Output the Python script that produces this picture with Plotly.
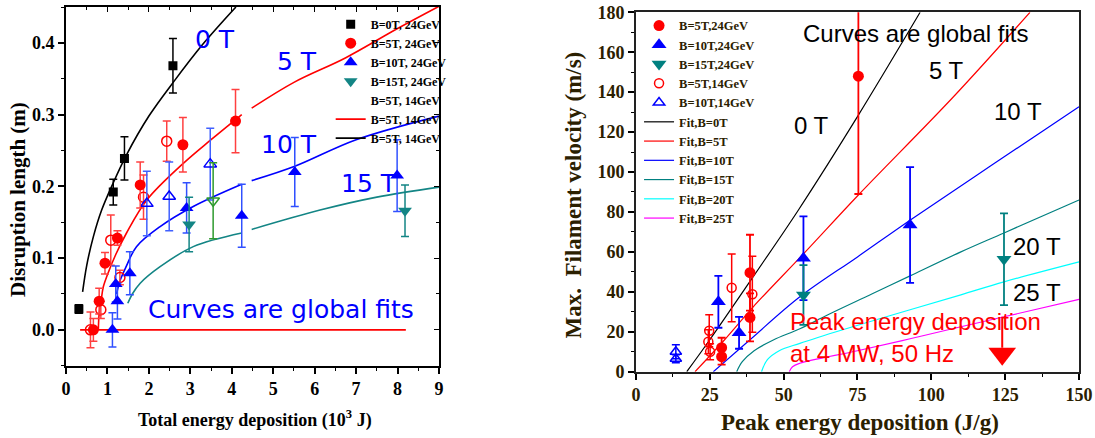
import plotly.graph_objects as go

# ---------------- Left panel data (Total energy deposition, 10^3 J) ----------------
L_b0_x = [0.31, 1.14, 1.41, 2.58]
L_b0_y = [0.029, 0.192, 0.239, 0.368]
L_b0_e = [0.006, 0.018, 0.030, 0.038]

L_b5_x = [0.66, 0.80, 0.94, 1.24, 1.79, 2.82, 4.09]
L_b5_y = [0.0, 0.040, 0.093, 0.128, 0.202, 0.258, 0.291]
L_b5_e = [0.016, 0.018, 0.015, 0.010, 0.032, 0.038, 0.044]

L_b5o_x = [0.59, 0.84, 1.08, 1.30, 1.87, 2.43]
L_b5o_y = [0.0, 0.028, 0.125, 0.073, 0.185, 0.263]
L_b5o_e = [0.025, 0.012, 0.035, 0.010, 0.031, 0.028]

L_b10_x = [1.12, 1.20, 1.24, 1.54, 2.91, 4.24, 5.52, 7.99]
L_b10_y = [0.0, 0.064, 0.040, 0.079, 0.170, 0.159, 0.220, 0.215]
L_b10_e = [0.024, 0.025, 0.025, 0.030, 0.035, 0.044, 0.048, 0.050]

L_b10o_x = [1.95, 2.49, 3.48]
L_b10o_y = [0.176, 0.186, 0.231]
L_b10o_e = [0.045, 0.048, 0.050]

L_b15_x = [2.97, 8.18]
L_b15_y = [0.147, 0.166]
L_b15_e = [0.038, 0.036]

L_b15o_x = [3.55]
L_b15o_y = [0.180]
L_b15o_e = [0.053]

# fit curves
L_fit0_x = [0.40, 0.50, 0.66, 0.86, 1.14, 1.46, 2.0, 2.6, 3.3, 4.1]
L_fit0_y = [0.053, 0.090, 0.130, 0.167, 0.205, 0.244, 0.298, 0.346, 0.398, 0.45]
L_fit5_x = [0.78, 0.80, 0.85, 0.90, 1.0, 1.2, 1.46, 1.95, 2.83, 3.5, 4.24, None, 4.48, 5.5, 6.74, 8.0, 9.0]
L_fit5_y = [0.0, 0.023, 0.042, 0.060, 0.077, 0.105, 0.135, 0.181, 0.232, 0.265, 0.300, None, 0.309, 0.345, 0.379, 0.420, 0.451]
L_fit10_x = [1.22, 1.30, 1.45, 1.70, 2.27, 3.07, 4.24, None, 4.48, 5.52, 7.0, 9.0]
L_fit10_y = [0.050, 0.068, 0.088, 0.116, 0.144, 0.172, 0.203, None, 0.208, 0.228, 0.265, 0.298]
L_fit15_x = [1.49, 1.60, 1.79, 2.27, 3.07, 4.24, None, 4.48, 6.13, 7.5, 9.0]
L_fit15_y = [0.037, 0.050, 0.065, 0.088, 0.116, 0.135, None, 0.140, 0.167, 0.185, 0.199]
L_zero_x = [0.34, 8.2]
L_zero_y = [0.0, 0.0]

# ---------------- Right panel data (Peak energy deposition, J/g) ----------------
R_b5_x = [75.3, 29.0, 29.0, 38.6, 38.6]
R_b5_y = [148, 12.0, 7.5, 49.6, 27.2]
R_b5_e = [59, 5, 4, 19, 12]

R_b10_x = [27.9, 34.9, 56.7, 92.8]
R_b10_y = [35, 19.5, 56.8, 73.5]
R_b10_e = [13, 8, 21, 29]

R_b15_x = [56.7, 124.6]
R_b15_y = [38.4, 56.3]
R_b15_e = [15, 23]

R_b5o_x = [32.4, 24.8, 24.5, 25.1, 39.4]
R_b5o_y = [42, 20.5, 15, 10, 38.8]
R_b5o_e = [17, 8, 6, 4, 19]

R_b10o_x = [13.5, 13.5]
R_b10o_y = [10, 6.5]
R_b10o_e = [3.5, 2]

R_fit0_x = [17.2, 25, 39.7, 55, 75.3, 96.2]
R_fit0_y = [0, 16, 47.6, 81, 128.5, 180]
R_fit5_x = [20, 30, 39.7, 56.7, 75.3, 107.5, 133.4]
R_fit5_y = [0, 16, 32.5, 59, 88.5, 137.7, 180]
R_fit10_x = [26.2, 38.6, 55.5, 75, 93.4, 120, 150]
R_fit10_y = [0, 16, 37.5, 57.5, 76.5, 103, 132.7]
R_fit15_x = [34.1, 36, 40, 46.5, 55.5, 65, 80, 92.8, 110, 124.6, 150]
R_fit15_y = [0, 5, 10.5, 15.9, 21.5, 28.5, 39, 48, 60, 69.5, 86]
R_fit20_x = [42.5, 44.5, 48.5, 55.5, 70, 92.8, 110, 124.6, 150]
R_fit20_y = [0, 6, 10.5, 14.2, 21, 31, 38.5, 45, 55]
R_fit25_x = [51.9, 53, 55.5, 75, 92.8, 110, 124.6, 150]
R_fit25_y = [0, 2.5, 4.2, 10.5, 16.5, 22.5, 27.5, 36.2]

R_arrow_x = [124, 124]
R_arrow_y = [27.5, 12]
R_head_x = [124]
R_head_y = [9]

SERIF = "Liberation Serif"
fig = go.Figure()

def err(arr, color, th=1.5, w=4):
    return dict(type="data", array=arr, color=color, thickness=th, width=w)

# ---- left fits ----
fig.add_trace(go.Scatter(x=L_fit0_x, y=L_fit0_y, mode="lines", line=dict(color="black", width=1.6, shape="spline"),
                         name="B=5T, 14GeV", legend="legend", legendrank=7, xaxis="x", yaxis="y"))
fig.add_trace(go.Scatter(x=L_fit5_x, y=L_fit5_y, mode="lines", line=dict(color="#ff0000", width=1.6, shape="spline"),
                         name="B=5T, 14GeV", legend="legend", legendrank=6, xaxis="x", yaxis="y"))
fig.add_trace(go.Scatter(x=L_fit10_x, y=L_fit10_y, mode="lines", line=dict(color="#0000ff", width=1.6, shape="spline"),
                         showlegend=False, xaxis="x", yaxis="y"))
fig.add_trace(go.Scatter(x=L_fit15_x, y=L_fit15_y, mode="lines", line=dict(color="#138585", width=1.6, shape="spline"),
                         showlegend=False, xaxis="x", yaxis="y"))
fig.add_trace(go.Scatter(x=L_zero_x, y=L_zero_y, mode="lines", line=dict(color="#ff0000", width=1.6),
                         showlegend=False, xaxis="x", yaxis="y"))

# ---- left markers ----
fig.add_trace(go.Scatter(x=L_b5o_x, y=L_b5o_y, mode="markers", error_y=err(L_b5o_e, "#ff4040"),
                         marker=dict(symbol="circle-open", size=10, color="#ff0000", line=dict(width=1.5)),
                         showlegend=False, xaxis="x", yaxis="y"))
fig.add_trace(go.Scatter(x=L_b10o_x, y=L_b10o_y, mode="markers", error_y=err(L_b10o_e, "#4060ff"),
                         marker=dict(symbol="triangle-up-open", size=11, color="#0000ff", line=dict(width=1.5)),
                         showlegend=False, xaxis="x", yaxis="y"))
fig.add_trace(go.Scatter(x=L_b15o_x, y=L_b15o_y, mode="markers", error_y=err(L_b15o_e, "#2e9a2e"),
                         marker=dict(symbol="triangle-down-open", size=11, color="#2e9a2e", line=dict(width=1.5)),
                         showlegend=False, xaxis="x", yaxis="y"))
fig.add_trace(go.Scatter(x=L_b0_x, y=L_b0_y, mode="markers", error_y=err(L_b0_e, "black"),
                         marker=dict(symbol="square", size=9, color="black"),
                         name="B=0T, 24GeV", legend="legend", legendrank=1, xaxis="x", yaxis="y"))
fig.add_trace(go.Scatter(x=L_b5_x, y=L_b5_y, mode="markers", error_y=err(L_b5_e, "#ff4040"),
                         marker=dict(symbol="circle", size=11, color="#ff0000"),
                         name="B=5T, 24GeV", legend="legend", legendrank=2, xaxis="x", yaxis="y"))
fig.add_trace(go.Scatter(x=L_b10_x, y=L_b10_y, mode="markers", error_y=err(L_b10_e, "#3050ff"),
                         marker=dict(symbol="triangle-up", size=12, color="#0000ff"),
                         name="B=10T, 24GeV", legend="legend", legendrank=3, xaxis="x", yaxis="y"))
fig.add_trace(go.Scatter(x=L_b15_x, y=L_b15_y, mode="markers", error_y=err(L_b15_e, "#138585"),
                         marker=dict(symbol="triangle-down", size=12, color="#138585"),
                         name="B=15T, 24GeV", legend="legend", legendrank=4, xaxis="x", yaxis="y"))
fig.add_trace(go.Scatter(x=[None], y=[None], mode="markers", marker=dict(color="rgba(0,0,0,0)", size=8),
                         name="B=5T, 14GeV", legend="legend", legendrank=5, xaxis="x", yaxis="y"))
# overlay axes carrier (inside ticks on top/right of left panel)
fig.add_trace(go.Scatter(x=[None], y=[None], showlegend=False, xaxis="x3", yaxis="y3"))

# ---- right fits ----
rfits = [(R_fit0_x, R_fit0_y, "black", "Fit,B=0T"), (R_fit5_x, R_fit5_y, "#ff0000", "Fit,B=5T"),
         (R_fit10_x, R_fit10_y, "#0000ff", "Fit,B=10T"), (R_fit15_x, R_fit15_y, "#008080", "Fit,B=15T"),
         (R_fit20_x, R_fit20_y, "#00ffff", "Fit,B=20T"), (R_fit25_x, R_fit25_y, "#ff00ff", "Fit,B=25T")]
for i, (fx, fy, c, n) in enumerate(rfits):
    fig.add_trace(go.Scatter(x=fx, y=fy, mode="lines", line=dict(color=c, width=1.2, shape="spline"),
                             name=n, legend="legend2", legendrank=6 + i, xaxis="x2", yaxis="y2"))

fig.add_trace(go.Scatter(x=R_b5o_x, y=R_b5o_y, mode="markers", error_y=err(R_b5o_e, "#ff0000"),
                         marker=dict(symbol="circle-open", size=9, color="#ff0000", line=dict(width=1.5)),
                         name="B=5T,14GeV", legend="legend2", legendrank=4, xaxis="x2", yaxis="y2"))
fig.add_trace(go.Scatter(x=R_b10o_x, y=R_b10o_y, mode="markers", error_y=err(R_b10o_e, "#0000ff"),
                         marker=dict(symbol="triangle-up-open", size=10, color="#0000ff", line=dict(width=1.5)),
                         name="B=10T,14GeV", legend="legend2", legendrank=5, xaxis="x2", yaxis="y2"))
fig.add_trace(go.Scatter(x=R_b5_x, y=R_b5_y, mode="markers", error_y=err(R_b5_e, "#ff0000", 1.8),
                         marker=dict(symbol="circle", size=11, color="#ff0000"),
                         name="B=5T,24GeV", legend="legend2", legendrank=1, xaxis="x2", yaxis="y2"))
fig.add_trace(go.Scatter(x=R_b10_x, y=R_b10_y, mode="markers", error_y=err(R_b10_e, "#0000ff", 1.8),
                         marker=dict(symbol="triangle-up", size=13, color="#0000ff"),
                         name="B=10T,24GeV", legend="legend2", legendrank=2, xaxis="x2", yaxis="y2"))
fig.add_trace(go.Scatter(x=R_b15_x, y=R_b15_y, mode="markers", error_y=err(R_b15_e, "#008080", 1.8),
                         marker=dict(symbol="triangle-down", size=13, color="#008080"),
                         name="B=15T,24GeV", legend="legend2", legendrank=3, xaxis="x2", yaxis="y2"))
fig.add_trace(go.Scatter(x=R_arrow_x, y=R_arrow_y, mode="lines", line=dict(color="#ff0000", width=2),
                         showlegend=False, xaxis="x2", yaxis="y2"))
fig.add_trace(go.Scatter(x=R_head_x, y=R_head_y, mode="markers", marker=dict(symbol="triangle-down", size=24, color="#ff0000"),
                         showlegend=False, xaxis="x2", yaxis="y2"))

tickL = dict(family=SERIF, size=18, color="black", weight="bold")
tickR = dict(family=SERIF, size=18, color="#2b2000", weight="bold")

fig.update_layout(
    width=1095, height=438, margin=dict(l=0, r=0, t=0, b=0, autoexpand=False),
    paper_bgcolor="white", plot_bgcolor="white",
    xaxis=dict(domain=[0.0603, 0.4009], range=[0, 9], dtick=1, tick0=0, showgrid=False, zeroline=False,
               showline=True, linecolor="black", linewidth=2, mirror=True, ticks="outside", ticklen=6,
               tickwidth=1.5, tickcolor="black", tickfont=tickL, automargin=False,
               minor=dict(dtick=0.5, ticks="outside", ticklen=3, tickcolor="black", tickwidth=1.2),
               anchor="y"),
    yaxis=dict(domain=[0.165, 0.984], range=[-0.05, 0.45], dtick=0.1, tick0=0, tickformat=".1f",
               showgrid=False, zeroline=False, showline=True, linecolor="black", linewidth=2, mirror=True,
               ticks="outside", ticklen=6, tickwidth=1.5, tickcolor="black", tickfont=tickL, automargin=False,
               minor=dict(dtick=0.05, ticks="outside", ticklen=3, tickcolor="black", tickwidth=1.2),
               anchor="x"),
    xaxis3=dict(overlaying="x", side="top", range=[0, 9], dtick=1, tick0=0, showgrid=False, zeroline=False,
                showline=False, ticks="inside", ticklen=5, tickwidth=1.2, tickcolor="black", showticklabels=False,
                automargin=False,
                minor=dict(dtick=0.5, ticks="inside", ticklen=3, tickcolor="black"), anchor="y3"),
    yaxis3=dict(overlaying="y", side="right", range=[-0.05, 0.45], dtick=0.1, tick0=0, showgrid=False,
                zeroline=False, showline=False, ticks="inside", ticklen=5, tickwidth=1.2, tickcolor="black",
                showticklabels=False, automargin=False,
                minor=dict(dtick=0.05, ticks="inside", ticklen=3, tickcolor="black"),
                anchor="x3"),
    xaxis2=dict(domain=[0.5808, 0.9854], range=[0, 150], dtick=25, tick0=0, showgrid=False, zeroline=False,
                showline=True, linecolor="#222", linewidth=2, mirror=True, ticks="outside", ticklen=6,
                tickwidth=1.5, tickcolor="black", tickfont=tickR, automargin=False,
                minor=dict(dtick=12.5, ticks="outside", ticklen=3, tickcolor="black", tickwidth=1.2),
                anchor="y2"),
    yaxis2=dict(domain=[0.1514, 0.9719], range=[0, 180], dtick=20, tick0=0, showgrid=False, zeroline=False,
                showline=True, linecolor="#222", linewidth=2, mirror=True, ticks="outside", ticklen=6,
                tickwidth=1.5, tickcolor="black", tickfont=tickR, automargin=False,
                minor=dict(dtick=10, ticks="outside", ticklen=3, tickcolor="black", tickwidth=1.2),
                anchor="x2"),
    legend=dict(x=0.302, y=0.978, xanchor="left", yanchor="top", bgcolor="rgba(0,0,0,0)",
                font=dict(family=SERIF, size=12, color="black", weight="bold"), tracegroupgap=0,
                itemsizing="trace"),
    legend2=dict(x=0.5836, y=0.975, xanchor="left", yanchor="top", bgcolor="rgba(0,0,0,0)",
                 font=dict(family=SERIF, size=12.5, color="#2b2000", weight="bold"), tracegroupgap=0,
                 itemsizing="trace"),
)

ann = []
CF = "DejaVu Sans"
for t, x, y in [("0 T", 3.59, 0.4045), ("5 T", 5.57, 0.374), ("10 T", 5.39, 0.258), ("15 T", 7.3, 0.2046),
                ("Curves are global fits", 5.18, 0.029)]:
    ann.append(dict(text=t, x=x, y=y, xref="x", yref="y", showarrow=False,
                    font=dict(family=CF, size=25, color="#0000ff")))
SF = "Liberation Sans"
for t, x, y in [("Curves are global fits", 94.5, 169.6), ("0 T", 59.3, 123.5), ("5 T", 105.2, 151),
                ("10 T", 129.4, 130.5), ("20 T", 135.7, 62.6), ("25 T", 135.7, 39.6)]:
    ann.append(dict(text=t, x=x, y=y, xref="x2", yref="y2", showarrow=False,
                    font=dict(family=SF, size=24, color="black")))
for t, y in [("Peak energy deposition", 25.0), ("at 4 MW, 50 Hz", 8.9)]:
    ann.append(dict(text=t, x=51.5, y=y, xref="x2", yref="y2", xanchor="left", showarrow=False,
                    font=dict(family=SF, size=24, color="#ff0000")))
# axis titles
ann.append(dict(text="Disruption length (m)", x=18 / 1095, y=1 - 200 / 438, xref="paper", yref="paper",
                xanchor="center", yanchor="middle",
                textangle=-90, showarrow=False, font=dict(family=SERIF, size=21, color="black", weight="bold")))
ann.append(dict(text="Total energy deposition (10<sup>3</sup> J)", x=255 / 1095, y=1 - 419 / 438,
                xref="paper", yref="paper", xanchor="center", yanchor="middle", showarrow=False,
                font=dict(family=SERIF, size=18, color="black", weight="bold")))
ann.append(dict(text="Max.  Filament velocity (m/s)", x=572.5 / 1095, y=1 - 195 / 438, xref="paper", yref="paper",
                xanchor="center", yanchor="middle",
                textangle=-90, showarrow=False, font=dict(family=SERIF, size=23, color="#2b2000", weight="bold")))
ann.append(dict(text="Peak energy deposition (J/g)", x=860 / 1095, y=1 - 422.7 / 438, xref="paper", yref="paper",
                xanchor="center", yanchor="middle",
                showarrow=False, font=dict(family=SERIF, size=23, color="#2b2000", weight="bold")))
fig.update_layout(annotations=ann)

fig.write_html("out.html", config={"displayModeBar": False},
               post_script="document.body.style.margin='0px';document.body.style.overflow='hidden';")
